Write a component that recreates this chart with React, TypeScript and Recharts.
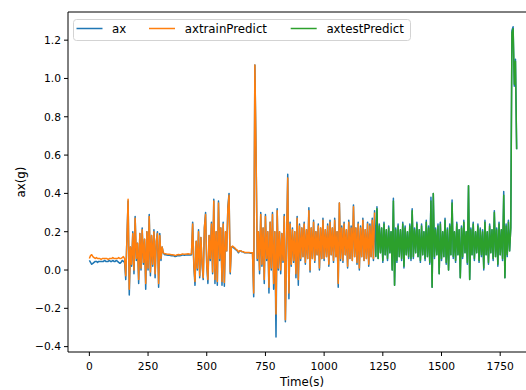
import React from 'react';
import { LineChart, Line, XAxis, YAxis, ReferenceLine, Label } from 'recharts';

const FONT = '"DejaVu Sans", sans-serif';
const BLUE = '#1f77b4';
const ORANGE = '#ff7f0e';
const GREEN = '#2ca02c';

const TIME_STEP = 5;
const X_TICKS = [0, 250, 500, 750, 1000, 1250, 1500, 1750];
const Y_TICKS = [-0.4, -0.2, 0.0, 0.2, 0.4, 0.6, 0.8, 1.0, 1.2];
const X_DOMAIN: [number, number] = [-91, 1911];
const Y_DOMAIN: [number, number] = [-0.428, 1.347];

// ---- ax (measured) ----
const axQuietStart = [0.05,0.04,0.03,0.035,0.04,0.045,0.045,0.04,0.045,0.045,0.045,0.045,0.045,0.05,0.045,0.045,0.045,0.05,0.045,0.045,0.05,0.045,0.045,0.05,0.045,0.04,0.035,0.04,0.05,0.045,0.04];
const axBurst1 = [-0.05,0.17,0.36,-0.13,0.12,0.02,0.2,-0.02,0.28,0.05,0.14,-0.07,0.19,0.0,0.22,0.03,0.16,-0.1,0.2,0.0,0.29,-0.03,0.18,0.02,0.21,-0.04,0.15,0.2,-0.09,0.19,0.05,0.12,0.09,0.08];
const axQuietMid = [0.08,0.078,0.077,0.078,0.076,0.075,0.075,0.074,0.07,0.072,0.075,0.076,0.075,0.076,0.078,0.078,0.077,0.078,0.078,0.08,0.079,0.078];
const axBurst2 = [0.08,0.25,0.02,-0.08,0.15,0.0,0.21,-0.04,0.17,0.03,-0.05,0.22,0.3,0.02,-0.07,0.18,0.05,0.25,-0.02,0.37,-0.07,0.2,-0.08,0.36,0.05,0.22,-0.08,0.25,-0.085,0.2,0.1,0.33,0.4,-0.02,0.12];
const axDecay = [0.12,0.115,0.11,0.105,0.1,0.09,0.1,0.1,0.095,0.095,0.09,0.09,0.09,0.09,0.09,0.088,0.088,0.09];
const axSpike = [-0.14,1.07,0.6,0.05];
const axNoiseA = [0.2,-0.02,0.3,0.02,0.22,-0.07,0.29,0.05,0.2,-0.12,0.25,0.0,0.3,-0.1,0.2,-0.35,0.32,0.0,0.2,-0.02,0.19,0.04,0.29,-0.27,0.15,0.5,-0.15,0.25,0.02];
const axNoiseB = [
  0.22,0.04,0.2,-0.04,0.28,-0.08,0.24,0.05,0.22,0.07,
  0.25,0.03,0.21,0.06,0.325,-0.01,0.22,0.06,0.26,0.04,
  0.2,0.08,0.24,0.0,0.22,0.06,0.27,0.05,0.21,0.07,
  0.24,0.02,0.26,0.08,0.22,0.04,0.27,0.07,0.2,-0.09,
  0.35,0.05,0.23,0.04,0.25,0.08,0.21,0.01,0.26,0.06,
  0.23,0.05,0.34,0.07,0.22,0.03,0.25,0.0,0.23,0.07,
  0.27,0.05,0.21,0.06,0.25,0.02,0.24,0.07,0.27,0.05,
  0.31];
const axTestRange = [
  0.07,0.33,0.06,0.24,0.09,0.22,0.04,0.25,0.08,0.21,
  0.05,0.23,0.09,0.2,0.0,0.375,-0.08,0.22,0.04,0.24,
  0.07,0.21,0.05,0.25,0.01,0.23,0.08,0.2,0.06,0.24,
  0.05,0.32,0.06,0.22,0.09,0.25,0.07,0.21,0.04,0.24,
  0.08,0.2,0.05,0.26,0.07,0.23,0.03,0.38,-0.09,0.4,
  0.06,0.22,0.08,0.24,-0.02,0.25,0.05,0.2,0.07,0.27,
  0.03,0.22,0.0,0.24,0.08,0.365,0.06,0.2,0.04,0.25,
  0.08,0.21,-0.04,0.23,0.06,0.26,0.09,0.2,0.03,0.44,
  -0.05,0.22,0.08,0.25,0.05,0.2,0.09,0.24,0.04,0.22,
  0.07,0.21,0.0,0.26,0.08,0.2,0.03,0.24,0.09,0.21,
  0.05,0.31,0.07,0.22,0.02,0.25,0.08,0.21,0.05,0.41,
  -0.04,0.24,0.07,0.26,0.1];
const axEndSpike = [0.22,1.25,1.27,0.96,1.1,0.63];

// ---- axtrainPredict ----
const trQuietStart = [0.06,0.075,0.08,0.07,0.065,0.06,0.065,0.06,0.06,0.06,0.055,0.06,0.06,0.06,0.06,0.06,0.055,0.06,0.06,0.06,0.065,0.06,0.06,0.06,0.06,0.065,0.06,0.06,0.065,0.07,0.06];
const trBurst1 = [-0.03,0.16,0.37,-0.1,0.12,0.03,0.19,0.0,0.27,0.06,0.14,-0.05,0.19,0.01,0.21,0.04,0.16,-0.07,0.2,0.01,0.28,-0.01,0.18,0.03,0.2,-0.02,0.15,0.19,-0.07,0.18,0.06,0.12,0.09,0.085];
const trQuietMid = [0.085,0.083,0.082,0.082,0.081,0.08,0.08,0.079,0.076,0.077,0.08,0.081,0.08,0.081,0.083,0.083,0.082,0.083,0.083,0.085,0.084,0.083];
const trBurst2 = [0.085,0.24,0.03,-0.06,0.15,0.01,0.2,-0.03,0.17,0.04,-0.04,0.22,0.29,0.03,-0.05,0.18,0.06,0.24,-0.01,0.36,-0.05,0.2,-0.06,0.35,0.06,0.22,-0.06,0.24,-0.065,0.2,0.1,0.32,0.39,-0.01,0.12];
const trDecay = [0.125,0.12,0.115,0.108,0.104,0.095,0.1,0.1,0.097,0.096,0.093,0.092,0.092,0.092,0.091,0.09,0.09,0.09];
const trSpike = [-0.12,1.07,0.62,0.06];
const trNoiseA = [0.2,0.0,0.29,0.03,0.22,-0.05,0.28,0.06,0.2,-0.09,0.25,0.01,0.29,-0.07,0.2,-0.23,0.31,0.01,0.2,0.0,0.19,0.05,0.28,-0.26,0.15,0.48,-0.12,0.24,0.03];
const trNoiseB = [
  0.21,0.05,0.2,-0.02,0.27,-0.05,0.23,0.06,0.22,0.07,
  0.24,0.04,0.21,0.06,0.31,0.0,0.22,0.06,0.25,0.05,
  0.2,0.08,0.23,0.01,0.22,0.06,0.26,0.06,0.21,0.07,
  0.23,0.03,0.25,0.08,0.22,0.05,0.26,0.07,0.2,-0.07,
  0.35,0.06,0.22,0.05,0.24,0.08,0.21,0.02,0.25,0.06,
  0.22,0.05,0.33,0.07,0.22,0.04,0.24,0.01,0.22,0.07,
  0.26,0.05,0.21,0.06,0.24,0.03,0.23,0.07,0.26,0.06,
  0.3];

// ---- axtestPredict ----
const teNoise = [
  0.07,0.32,0.06,0.23,0.09,0.22,0.05,0.24,0.08,0.21,
  0.06,0.22,0.09,0.2,0.0,0.36,-0.08,0.21,0.05,0.23,
  0.07,0.21,0.06,0.24,0.02,0.22,0.08,0.2,0.07,0.23,
  0.06,0.31,0.07,0.21,0.09,0.24,0.07,0.21,0.05,0.23,
  0.08,0.2,0.06,0.25,0.07,0.22,0.04,0.36,-0.09,0.4,
  0.07,0.21,0.08,0.23,-0.02,0.24,0.06,0.2,0.07,0.26,
  0.04,0.21,0.0,0.23,0.08,0.35,0.07,0.2,0.05,0.24,
  0.08,0.21,-0.04,0.22,0.07,0.25,0.09,0.2,0.04,0.44,
  -0.05,0.21,0.08,0.24,0.06,0.2,0.09,0.23,0.05,0.21,
  0.08,0.2,0.01,0.25,0.08,0.2,0.04,0.23,0.09,0.21,
  0.06,0.3,0.07,0.21,0.03,0.24,0.08,0.21,0.06,0.39,
  -0.04,0.23,0.08,0.25,0.1];
const teEndSpike = [0.22,1.24,1.26,0.97,1.09,0.63];

const axValues = [
  ...axQuietStart, ...axBurst1, ...axQuietMid, ...axBurst2, ...axDecay,
  ...axSpike, ...axNoiseA, ...axNoiseB, ...axTestRange, ...axEndSpike,
];
const trainValues = [
  ...trQuietStart, ...trBurst1, ...trQuietMid, ...trBurst2, ...trDecay,
  ...trSpike, ...trNoiseA, ...trNoiseB,
];
const testValues = [...teNoise, ...teEndSpike];
const testStart = axValues.length - testValues.length;

const data = axValues.map((v, i) => ({
  t: i * TIME_STEP,
  ax: v,
  train: i < trainValues.length ? trainValues[i] : null,
  test: i >= testStart ? testValues[i - testStart] : null,
}));

const legendItems = [
  { label: 'ax', color: BLUE, lineX: 3.5, textX: 39 },
  { label: 'axtrainPredict', color: ORANGE, lineX: 76, textX: 111.7 },
  { label: 'axtestPredict', color: GREEN, lineX: 217.7, textX: 253.4 },
];

const LegendBox = () => (
  <svg width={340} height={23} style={{ position: 'absolute', left: 73, top: 19, display: 'block' }}>
    <rect x={0.5} y={0.5} width={337} height={21} rx={3} ry={3} fill="#fff" fillOpacity={0.8} stroke="#d3d3d3" strokeWidth={1} />
    {legendItems.map((it) => (
      <g key={it.label}>
        <line x1={it.lineX} x2={it.lineX + 26} y1={9.5} y2={9.5} stroke={it.color} strokeWidth={1.5} />
        <text x={it.textX} y={13.5} fontSize={11.8} fontFamily={FONT} fill="#000">{it.label}</text>
      </g>
    ))}
  </svg>
);

const fmtY = (v: number) => {
  const s = Math.abs(v).toFixed(1);
  return v < -1e-9 ? '\u2212' + s : s;
};

export default function App() {
  return (
    <div style={{ position: 'fixed', left: 0, top: 0, width: 526, height: 390, overflow: 'hidden', background: '#fff' }}>
      <LineChart width={538} height={390} data={data} margin={{ top: 12, right: 0, bottom: 0, left: 0 }}>
        <XAxis
          dataKey="t"
          type="number"
          domain={X_DOMAIN}
          ticks={X_TICKS}
          interval={0}
          allowDataOverflow
          height={38}
          tickSize={4}
          tickMargin={6}
          stroke="#000"
          tick={{ fill: '#000', fontSize: 10.7, fontFamily: FONT }}
        >
          <Label value="Time(s)" position="center" dy={10.5} dx={-1} fill="#000" fontSize={11.8} fontFamily={FONT} />
        </XAxis>
        <YAxis
          type="number"
          domain={Y_DOMAIN}
          ticks={Y_TICKS}
          interval={0}
          allowDataOverflow
          width={68}
          tickSize={4}
          tickMargin={3}
          stroke="#000"
          tickFormatter={fmtY}
          tick={{ fill: '#000', fontSize: 10.7, fontFamily: FONT }}
        >
          <Label value="ax(g)" angle={-90} position="center" dx={-13.3} fill="#000" fontSize={11.8} fontFamily={FONT} />
        </YAxis>
        <ReferenceLine y={Y_DOMAIN[1]} stroke="#000" strokeWidth={1} />
        <ReferenceLine x={X_DOMAIN[1]} stroke="#000" strokeWidth={1} />
        <Line dataKey="ax" stroke={BLUE} strokeWidth={1.5} dot={false} isAnimationActive={false} strokeLinejoin="round" />
        <Line dataKey="train" stroke={ORANGE} strokeWidth={1.5} dot={false} isAnimationActive={false} strokeLinejoin="round" />
        <Line dataKey="test" stroke={GREEN} strokeWidth={1.5} dot={false} isAnimationActive={false} strokeLinejoin="round" />
      </LineChart>
      <LegendBox />
    </div>
  );
}
